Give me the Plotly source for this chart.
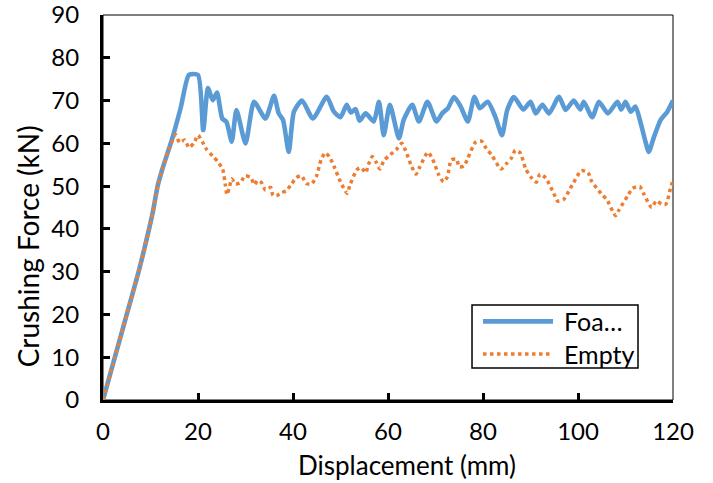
import plotly.graph_objects as go

# ---- data ----
foam_x = [0, 2.5, 5, 7.5, 9.7, 10.5, 11.5, 12.5, 14.6, 16.4, 18.1, 20.0, 21.1, 22.1, 23.1, 24.0, 25.1, 26.0,
          27.1, 28.1, 30.0, 31.8, 34.2, 36.0, 37.0, 37.9, 39.1, 40.2, 41.9, 44.2, 47.1, 48.6, 50.0, 51.3,
          52.2, 53.2, 54.0, 55.3, 57.0, 58.1, 59.1, 60.4, 62.3, 63.3, 65.1, 66.5, 68.3, 70.2, 71.4, 72.6,
          73.9, 75.3, 76.8, 78.2, 79.3, 81.0, 82.6, 84.0, 85.1, 86.5, 88.5, 90.0, 91.1, 92.5, 93.9, 96.0,
          97.4, 99.1, 100.5, 101.2, 103.0, 104.4, 106.3, 108.3, 109.1, 110.0, 111.1, 112.1, 113.2, 114.2,
          114.9, 116.0, 117.4, 118.8, 120.0]
foam_y = [0, 10, 20, 30, 40, 44, 50, 54, 61.2, 68.5, 76.0, 76.0, 63.1, 72.9, 70.1, 71.9, 65.8, 65.0,
          60.4, 67.8, 60.0, 69.7, 65.8, 71.1, 67.0, 65.5, 58.0, 67.4, 70.0, 65.8, 70.9, 67.4, 66.1, 69.0,
          67.2, 68.0, 65.3, 67.0, 65.1, 69.7, 61.9, 69.0, 61.2, 65.5, 69.0, 65.1, 69.7, 65.1, 67.0, 68.2,
          70.8, 68.6, 65.1, 70.9, 68.2, 69.7, 66.2, 61.9, 67.8, 70.8, 67.9, 69.7, 67.0, 69.0, 67.0, 70.9,
          67.8, 70.0, 67.9, 69.7, 66.1, 69.7, 67.0, 69.7, 67.9, 69.7, 67.4, 68.6, 64.7, 60.4,
          58.0, 61.5, 65.5, 67.4, 70.0]

empty_x = [0, 2.5, 5, 7.5, 9.7, 10.5, 11.5, 12.5, 14.0, 15.3, 16.1, 17.2, 18.1, 19.2, 20.0, 20.9, 21.8,
           23.1, 24.2, 25.2, 25.8, 26.1, 26.6, 27.1, 27.9, 28.9, 29.9, 31.1, 31.9, 32.5, 33.3, 34.2, 35.3,
           35.8, 36.6, 37.6, 38.6, 39.7, 40.7, 41.8, 42.8, 43.9, 44.9, 45.9, 46.8, 47.8, 48.6, 50.0, 51.4,
           52.0, 53.5, 54.4, 55.3, 55.9, 56.7, 57.5, 58.3, 59.1, 60.2, 61.8, 62.9, 63.7, 65.0, 65.9, 66.7,
           68.4, 69.4, 70.7, 71.7, 72.5, 73.3, 74.4, 75.0, 76.0, 76.8, 78.4, 79.7, 80.7, 81.8, 83.8, 84.9,
           86.0, 86.8, 87.8, 89.0, 90.0, 91.2, 92.0, 93.2, 94.9, 95.7, 96.9, 98.8, 100.7, 102.1, 102.8,
           104.9, 106.1, 107.9, 108.6, 110.5, 111.5, 113.0, 113.8, 115.5, 116.5, 117.6, 118.5, 119.5, 120.0]
empty_y = [0, 10, 20, 30, 40, 44, 50, 54, 59, 62.0, 60.2, 60.8, 59.0, 60.2, 61.9, 60.4, 58.6,
           57.0, 55.7, 53.9, 50.0, 48.0, 49.7, 51.7, 50.5, 50.8, 52.4, 52.0, 50.3, 51.3, 50.9, 49.1, 49.7,
           47.8, 47.8, 48.5, 48.9, 50.5, 52.0, 52.4, 50.6, 50.5, 52.2, 56.1, 57.8, 56.6, 54.7, 51.0, 48.3,
           50.3, 53.9, 54.3, 53.1, 55.1, 56.9, 55.6, 54.0, 55.9, 57.1, 58.6, 60.0, 58.3, 54.5, 52.8, 54.5,
           57.9, 56.3, 52.6, 51.0, 52.2, 56.1, 56.3, 54.5, 54.7, 56.5, 60.2, 60.5, 58.8, 57.3, 54.0, 55.2,
           56.6, 58.4, 57.8, 54.0, 52.2, 50.9, 52.8, 51.9, 48.3, 46.5, 46.8, 50.3, 53.6, 53.2, 51.3,
           48.2, 46.8, 43.1, 44.4, 47.8, 49.5, 49.9, 48.3, 45.0, 46.6, 45.8, 45.8, 49.6, 51.4]

series_names = ["Foa…", "Empty"]
series_colors = ["#5B9BD5", "#ED7D31"]
x_ticks = [0, 20, 40, 60, 80, 100, 120]
y_ticks = [0, 10, 20, 30, 40, 50, 60, 70, 80, 90]

FONT = "Lato"
DOT = "3.5px,3.5px"

fig = go.Figure()
fig.add_trace(go.Scatter(x=foam_x, y=foam_y, mode="lines", name=series_names[0], showlegend=False,
                         line=dict(color=series_colors[0], width=4.6, shape="spline", smoothing=0.6)))
fig.add_trace(go.Scatter(x=empty_x, y=empty_y, mode="lines", name=series_names[1], showlegend=False,
                         line=dict(color=series_colors[1], width=3.5, dash=DOT, shape="spline", smoothing=0.6)))

axis_common = dict(showgrid=False, zeroline=False, showline=True, linecolor="black", linewidth=3,
                   ticks="inside", ticklen=7, tickwidth=3, tickcolor="black", automargin=False,
                   ticklabeloverflow="allow",
                   tickfont=dict(family=FONT, size=24, color="black"))

fig.update_xaxes(range=[0, 120], tickvals=x_ticks, ticktext=[str(v) for v in x_ticks],
                 ticklabelstandoff=8, **axis_common)
fig.update_yaxes(range=[0, 90], tickvals=y_ticks, ticktext=[str(v) for v in y_ticks],
                 ticklabelstandoff=16, **axis_common)

# axis titles (placed as in the reference, which are not centred on the axes)
fig.add_annotation(text="Displacement (mm)", xref="paper", yref="paper",
                   x=0.533, y=-0.169, xanchor="center", yanchor="middle", showarrow=False,
                   font=dict(family=FONT, size=26, color="black"))
fig.add_annotation(text="Crushing Force (kN)", textangle=-90, xref="paper", yref="paper",
                   x=-0.131, y=0.400, xanchor="center", yanchor="middle", showarrow=False,
                   font=dict(family=FONT, size=28, color="black"))

# thin plot-area border
fig.add_shape(type="rect", xref="paper", yref="paper", x0=0, y0=0, x1=1, y1=1,
              line=dict(color="black", width=1), layer="below")

# legend box (drawn to match the reference's long sample lines)
fig.add_shape(type="rect", xref="paper", yref="paper", x0=0.6474, y0=0.0831, x1=0.9386, y1=0.2468,
              line=dict(color="black", width=1.5), fillcolor="white")
leg_y = [0.2042, 0.1195]
leg_dash = ["solid", DOT]
leg_w = [4.6, 3.5]
for name, color, yy, dash, w in zip(series_names, series_colors, leg_y, leg_dash, leg_w):
    fig.add_shape(type="line", xref="paper", yref="paper", x0=0.6667, x1=0.7895, y0=yy, y1=yy,
                  line=dict(color=color, width=w, dash=dash))
    fig.add_annotation(text=name, xref="paper", yref="paper", x=0.8053, y=yy, xanchor="left",
                       yanchor="middle", showarrow=False, font=dict(family=FONT, size=25, color="black"))

fig.update_layout(
    width=713, height=483,
    margin=dict(l=103, r=40, t=15, b=83),
    paper_bgcolor="white", plot_bgcolor="white",
    showlegend=False,
)

# remove the browser's default 8px page margin so the figure sits at the window origin
fig.write_html("out.html", config={"displayModeBar": False},
               post_script="document.body.style.margin='0';")
